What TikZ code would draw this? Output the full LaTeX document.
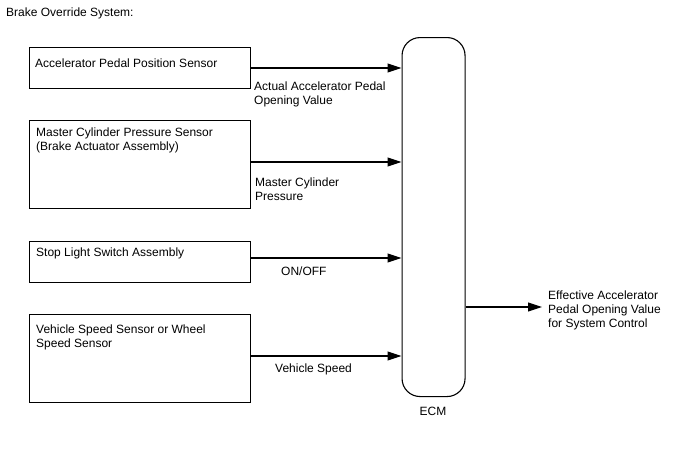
\documentclass[tikz,border=0pt]{standalone}
\usepackage{fontspec}
\setmainfont{Liberation Sans}
\usetikzlibrary{arrows.meta}
\begin{document}
\begin{tikzpicture}[x=1pt,y=-1pt,
  every node/.style={font=\fontsize{12}{14}\selectfont},
  box/.style={draw,line width=1.1pt,minimum width=221pt,anchor=north west,inner sep=0pt},
  txt/.style={anchor=west,align=left,inner sep=0pt},
  arr/.style={line width=1.1pt,-{Triangle[length=14pt,width=9pt]}}]
\useasboundingbox (0,0) rectangle (688,463);
\node[txt] (title) at (6,13) {Brake Override System:};
% sensor boxes
\node[box,minimum height=41pt] (b1) at (28.5,47) {};
\node[box,minimum height=88pt] (b2) at (28.5,120) {};
\node[box,minimum height=41pt] (b3) at (28.5,241) {};
\node[box,minimum height=88pt] (b4) at (28.5,314) {};
\node[txt] (t1) at (35,63) {Accelerator Pedal Position Sensor};
\node[txt] (t2) at (36,140.5) {Master Cylinder Pressure Sensor\\(Brake Actuator Assembly)};
\node[txt] (t3) at (36,253) {Stop Light Switch Assembly};
\node[txt] (t4) at (36,337.5) {Vehicle Speed Sensor or Wheel\\Speed Sensor};
% ECM
\node[draw,line width=1.1pt,rounded corners=18pt,minimum width=63pt,minimum height=359pt,anchor=north west,inner sep=0pt] (ecm) at (401.5,37) {};
\node[anchor=center,inner sep=0pt] (ecml) at (433,411) {ECM};
% inputs
\coordinate (i1) at (401,68);
\coordinate (i2) at (401,162);
\coordinate (i3) at (401,258);
\coordinate (i4) at (401,356);
\draw[arr] (b1.east |- i1) -- (ecm.west |- i1);
\draw[arr] (b2.east |- i2) -- (ecm.west |- i2);
\draw[arr] (b3.east |- i3) -- (ecm.west |- i3);
\draw[arr] (b4.east |- i4) -- (ecm.west |- i4);
\node[txt] (l1) at (254,94) {Actual Accelerator Pedal\\Opening Value};
\node[txt] (l2) at (255,189) {Master Cylinder\\Pressure};
\node[txt] (l3) at (281,271) {ON/OFF};
\node[txt] (l4) at (275,369) {Vehicle Speed};
% output
\coordinate (o) at (542,307);
\draw[arr] (ecm.east |- o) -- (o);
\node[txt] (lo) at (548,310) {Effective Accelerator\\Pedal Opening Value\\for System Control};
\end{tikzpicture}
\end{document}
